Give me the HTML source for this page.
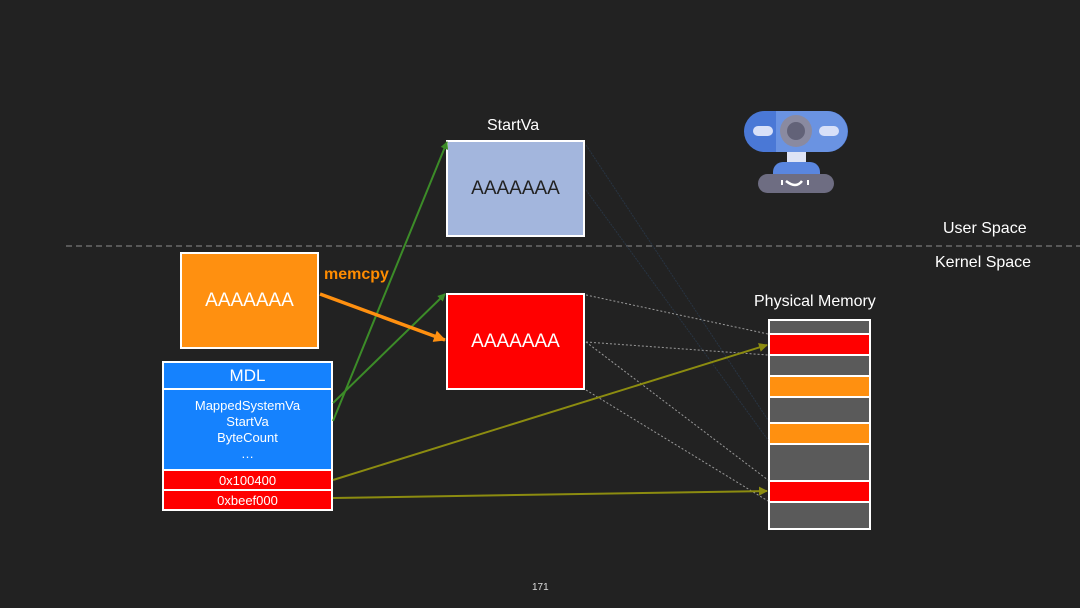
<!DOCTYPE html>
<html><head><meta charset="utf-8"><style>
body{margin:0;width:1080px;height:608px;background:#222222;font-family:"Liberation Sans",sans-serif;overflow:hidden;position:relative}
.a{position:absolute;box-sizing:border-box}
.t{position:absolute;color:#fff;font-family:"Liberation Sans",sans-serif;white-space:nowrap}
</style></head><body>
<svg class="a" style="left:0;top:0" width="1080" height="608"><line x1="66" y1="246" x2="1080" y2="246" stroke="#6a6a6a" stroke-width="1.5" stroke-dasharray="6,4"/></svg>
<div class="t" style="left:943px;top:220px;font-size:16px">User Space</div>
<div class="t" style="left:935px;top:254px;font-size:16px">Kernel Space</div>
<div class="t" style="left:487px;top:117px;font-size:16px">StartVa</div>
<div class="t" style="left:754px;top:293px;font-size:16px">Physical Memory</div>
<div class="t" style="left:324px;top:266px;font-size:16px;color:#ff8c00;font-weight:bold">memcpy</div>

<div class="a" style="left:446px;top:140px;width:139px;height:97px;background:#a3b6dd;border:2px solid #fff;color:#222;font-size:19px;text-align:center;line-height:93px">AAAAAAA</div>
<div class="a" style="left:180px;top:252px;width:139px;height:97px;background:#ff9010;border:2px solid #fff;color:#fff;font-size:19px;text-align:center;line-height:93px">AAAAAAA</div>
<div class="a" style="left:446px;top:293px;width:139px;height:97px;background:#ff0000;border:2px solid #fff;color:#fff;font-size:19px;text-align:center;line-height:93px">AAAAAAA</div>

<div class="a" style="left:162px;top:361px;width:171px;height:150px;background:#fff"></div>
<div class="a" style="left:164px;top:363px;width:167px;height:25px;background:#1582fe;color:#fff;font-size:17px;text-align:center;line-height:26px">MDL</div>
<div class="a" style="left:164px;top:390px;width:167px;height:79px;background:#1582fe;color:#fff;font-size:13px;text-align:center;line-height:16px;padding-top:8px">MappedSystemVa<br>StartVa<br>ByteCount<br>…</div>
<div class="a" style="left:164px;top:471px;width:167px;height:18px;background:#ff0000;color:#fff;font-size:13px;text-align:center;line-height:19px">0x100400</div>
<div class="a" style="left:164px;top:491px;width:167px;height:18px;background:#ff0000;color:#fff;font-size:13px;text-align:center;line-height:19px">0xbeef000</div>

<div class="a" style="left:768px;top:319px;width:103px;height:211px;background:#fff"></div>
<div class="a" style="left:770px;top:321px;width:99px;height:12px;background:#5a5a5a"></div>
<div class="a" style="left:770px;top:335px;width:99px;height:19px;background:#ff0000"></div>
<div class="a" style="left:770px;top:356px;width:99px;height:19px;background:#5a5a5a"></div>
<div class="a" style="left:770px;top:377px;width:99px;height:19px;background:#ff9010"></div>
<div class="a" style="left:770px;top:398px;width:99px;height:24px;background:#5a5a5a"></div>
<div class="a" style="left:770px;top:424px;width:99px;height:19px;background:#ff9010"></div>
<div class="a" style="left:770px;top:445px;width:99px;height:35px;background:#5a5a5a"></div>
<div class="a" style="left:770px;top:482px;width:99px;height:19px;background:#ff0000"></div>
<div class="a" style="left:770px;top:503px;width:99px;height:25px;background:#5a5a5a"></div>

<svg class="a" style="left:0;top:0" width="1080" height="608">
<defs>
<marker id="g" markerWidth="8" markerHeight="8" refX="7" refY="4" orient="auto" markerUnits="userSpaceOnUse"><path d="M0,0 L8,4 L0,8z" fill="#3c8c28"/></marker>
<marker id="o" markerWidth="9" markerHeight="9" refX="8" refY="4.5" orient="auto" markerUnits="userSpaceOnUse"><path d="M0,0 L9,4.5 L0,9z" fill="#8c8c10"/></marker>
<marker id="or" markerWidth="12" markerHeight="12" refX="11" refY="6" orient="auto" markerUnits="userSpaceOnUse"><path d="M0,0 L12,6 L0,12z" fill="#ff9010"/></marker>
</defs>
<g stroke="#283442" stroke-width="1" stroke-dasharray="2,1">
<line x1="586" y1="145" x2="768" y2="420"/><line x1="586" y1="190" x2="768" y2="440"/>
</g>
<g stroke="#999" stroke-width="1" stroke-dasharray="2,2">
<line x1="586" y1="295" x2="768" y2="334"/><line x1="586" y1="342" x2="768" y2="355"/>
<line x1="586" y1="342" x2="768" y2="480"/><line x1="586" y1="390" x2="768" y2="501"/>
</g>
<g stroke="#3c8c28" stroke-width="2" fill="none">
<line x1="333" y1="421" x2="447" y2="142" marker-end="url(#g)"/>
<line x1="333" y1="403" x2="445" y2="294" marker-end="url(#g)"/>
</g>
<g stroke="#8c8c10" stroke-width="2">
<line x1="333" y1="480" x2="767" y2="345" marker-end="url(#o)"/>
<line x1="333" y1="498" x2="767" y2="491" marker-end="url(#o)"/>
</g>
<line x1="320" y1="294" x2="445" y2="340" stroke="#ff9010" stroke-width="3.5" marker-end="url(#or)"/>
<rect x="744" y="111" width="104" height="41" rx="20.5" fill="#4a78d6"/>
<path d="M776 111 H827 A20.5 20.5 0 0 1 827 152 H776z" fill="#6a93e2"/>
<circle cx="796" cy="131" r="16" fill="#8a8aa0"/>
<circle cx="796" cy="131" r="9" fill="#626278"/>
<rect x="753" y="126" width="20" height="10" rx="5" fill="#d8e0f8"/>
<rect x="819" y="126" width="20" height="10" rx="5" fill="#d8e0f8"/>
<rect x="787" y="152" width="19" height="10" fill="#dfe4f5"/>
<path d="M773 176 V172 A10 10 0 0 1 783 162 H810 A10 10 0 0 1 820 172 V176z" fill="#5a86df"/>
<rect x="758" y="174" width="76" height="19" rx="9.5" fill="#6e6d82"/>
<path d="M786 181 Q796 189 802 181" stroke="#fff" stroke-width="2.5" fill="none"/>
<line x1="782" y1="180" x2="782" y2="185" stroke="#fff" stroke-width="2"/>
<line x1="808" y1="180" x2="808" y2="185" stroke="#fff" stroke-width="2"/>
</svg>
<div class="t" style="left:532px;top:582px;font-size:10px;color:#ddd">171</div>
</body></html>
